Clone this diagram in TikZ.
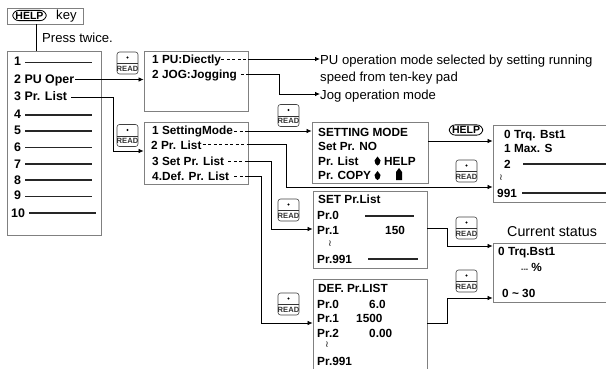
\documentclass[tikz,border=0pt]{standalone}
\usepackage{fontspec}
\setmainfont{Liberation Sans}
\newfontfamily\symfont{DejaVu Sans}
\usetikzlibrary{arrows.meta}
\tikzset{
  panel/.style={draw=black!50,line width=0.8pt,fill=white},
  lab/.style={anchor=west,inner sep=0pt,text height=9pt,text depth=1pt,font=\fontsize{11.8}{11.8}\selectfont\bfseries},
  mlab/.style={lab,font=\fontsize{12.4}{12.4}\selectfont\bfseries},
  plain/.style={anchor=west,inner sep=0pt,text height=10pt,text depth=1pt,font=\fontsize{13.1}{13.1}\selectfont},
  blank/.style={line width=1.1pt,black!85},
  conn/.style={line width=0.75pt,-{Latex[length=5pt,width=4.5pt]}},
  dashseg/.style={line width=0.6pt,dash pattern=on 3pt off 2.5pt},
  keyb/.style={draw=black!75,line width=0.6pt,rounded corners=2.5pt},
  pill/.style={draw=black,line width=0.8pt,rounded corners=6pt,inner xsep=2.8pt,inner ysep=1.5pt,font=\fontsize{10.5}{10.5}\selectfont\bfseries},
  squig/.style={inner sep=0pt,font=\symfont\fontsize{9}{9}\selectfont}
}
\newcommand{\readkey}[3]{%
  \draw[keyb] (#2,#3) rectangle ++(21,22);
  \draw[line width=0.6pt,black!80] (#2,#3+11.5) -- ++(21,0);
  \fill (#2+10.5,#3+5.5) circle (1.2pt);
  \node[inner sep=0pt,font=\fontsize{7.6}{7.6}\selectfont\bfseries,black!80] (#1) at (#2+10.5,#3+16.8) {READ};
}
\newcommand{\updown}[2]{\fill (#1,#2-4) -- (#1+3,#2) -- (#1+2,#2+3.5) -- (#1,#2+5) -- (#1-2,#2+3.5) -- (#1-3,#2) -- cycle;}
\begin{document}
\begin{tikzpicture}[x=1pt,y=-1pt]
\useasboundingbox (0,0) rectangle (606,369);
% panels
\node[panel,minimum width=76pt,minimum height=16pt,inner sep=0pt] (helpbox) at (45,16) {};
\node[panel,minimum width=94pt,minimum height=184pt,inner sep=0pt] (menu) at (54,143) {};
\node[panel,minimum width=104pt,minimum height=60pt,inner sep=0pt] (pubox) at (196,81) {};
\node[panel,minimum width=104pt,minimum height=62pt,inner sep=0pt] (prbox) at (196,153) {};
\node[panel,minimum width=116pt,minimum height=61pt,inner sep=0pt] (setmode) at (370,152.5) {};
\node[panel,minimum width=114pt,minimum height=77pt,inner sep=0pt] (setlist) at (370,229.5) {};
\node[panel,minimum width=120pt,minimum height=77pt,inner sep=0pt] (trq) at (553,163.5) {};
\node[panel,minimum width=120pt,minimum height=59pt,inner sep=0pt] (cur) at (553,272.5) {};
\node[panel,minimum width=114pt,minimum height=100pt,inner sep=0pt] (deflist) at (370,329) {};
% HELP key box
\node[pill] (hk) at (29.5,15.5) {HELP};
\node[plain] (hkt) at (56,15) {key};
\coordinate (hlpdown) at (36,24);
\coordinate (menutop) at (36,51);
\draw[line width=0.8pt] (hlpdown) -- (menutop);
\node[plain] (press) at (42,38) {Press twice.};
% menu
\node[mlab] (t1) at (14,62) {1};
\node[mlab] (t2) at (14,80) {2 PU Oper};
\node[mlab] (t3) at (14,97) {3 Pr. List};
\node[mlab] (t4) at (14,115) {4};
\node[mlab] (t5) at (14,131) {5};
\node[mlab] (t6) at (14,147) {6};
\node[mlab] (t7) at (14,164) {7};
\node[mlab] (t8) at (14,180) {8};
\node[mlab] (t9) at (14,196) {9};
\node[mlab] (t10) at (11,213) {10};
\foreach \y/\a/\b in {62.5/25/92,115/25/92,131/25/92,147.5/25/92,164/25/92,180/25/92,196.5/25/92,213/29/96}{
  \draw[blank] (\a,\y) -- (\b,\y);
}
% second-level text
\node[lab] (pu1) at (152,60) {1 PU:Diectly};
\node[lab] (pu2) at (152,74.5) {2 JOG:Jogging};
\node[lab] (pr1) at (152,131) {1 SettingMode};
\node[lab] (pr2) at (151,145.5) {2 Pr. List};
\node[lab] (pr3) at (152,161) {3 Set Pr. List};
\node[lab] (pr4) at (152,176) {4.Def. Pr. List};
% outputs
\node[plain] (o1) at (320,60) {PU operation mode selected by setting running};
\node[plain] (o2) at (320,77) {speed from ten-key pad};
\node[plain] (o3) at (320,95) {Jog operation mode};
% setting mode
\node[lab] (s1) at (318,132) {SETTING MODE};
\node[lab] (s2) at (318,146) {Set Pr. NO};
\node[lab] (s3) at (318,161) {Pr. List};
\node[lab] (s3b) at (384,161) {HELP};
\node[lab] (s4) at (318,175) {Pr. COPY};
\updown{377.5}{160.5}
\updown{377.5}{175}
\fill (396,180) -- (396,172) -- (399,168) -- (402,172) -- (402,180) -- cycle;
% trq list
\node[lab] (a0) at (504,135) {0 Trq. Bst1};
\node[lab] (a1) at (504,149) {1 Max. S};
\node[lab] (a2) at (504,164) {2};
\node[squig] (a3) at (501,178) {≀};
\node[lab] (a4) at (497,193) {991};
\draw[blank] (523,164) -- (606,164);
\draw[blank] (522,193) -- (606,193);
% set list
\node[lab] (b0) at (318,200) {SET Pr.List};
\node[lab] (b1) at (317,215) {Pr.0};
\node[lab] (b2) at (317,230) {Pr.1};
\node[lab] (b2v) at (385,230) {150};
\node[squig] (b3) at (330,244) {≀};
\node[lab] (b4) at (317,259) {Pr.991};
\draw[blank] (365,216) -- (414,216);
\draw[blank] (368,259) -- (418,259);
% def list
\node[lab] (d0) at (318,288.5) {DEF. Pr.LIST};
\node[lab] (d1) at (317,304) {Pr.0};
\node[lab] (d1v) at (369,304) {6.0};
\node[lab] (d2) at (317,318) {Pr.1};
\node[lab] (d2v) at (356,318) {1500};
\node[lab] (d3) at (317,333) {Pr.2};
\node[lab] (d3v) at (369,333) {0.00};
\node[squig] (d4) at (327,345) {≀};
\node[lab] (d5) at (317,361) {Pr.991};
% current
\node[plain,font=\fontsize{14.3}{14.3}\selectfont] (c0) at (507,232) {Current status};
\node[lab] (c1) at (498,251) {0 Trq.Bst1};
\node[lab] (c2) at (521,267) {{\fontsize{7}{7}\selectfont -{}-{}-} \%};
\node[lab] (c3) at (502,293) {0 \textasciitilde{} 30};
% keys
\readkey{k1}{117}{52}
\readkey{k2}{117}{124.5}
\readkey{k3}{278}{104.5}
\readkey{k4}{456}{160}
\readkey{k5}{278}{199}
\readkey{k6}{278}{293}
\readkey{k7}{456}{217}
\readkey{k8}{456}{270}
\node[pill] (hp) at (466,130) {HELP};
% connectors
\draw[conn] (t2.east |- 0,79.5) ++(1,0) -- (pubox.west |- 0,79.5);
\draw[conn] (t3.east |- 0,97) ++(4,0) -- (113,97) -- (113,151) -- (prbox.west |- 0,151);
\draw[dashseg] (pu1.east |- 0,59) -- (248,59);
\draw[conn] (pubox.east |- 0,59) -- (o1.west |- 0,59);
\draw[dashseg] (pu2.east |- 0,74) ++(4,0) -- (248,74);
\draw[conn] (pubox.east |- 0,74) -- (279,74) -- (279,94) -- (o3.west |- 0,94);
\draw[dashseg] (pr1.east |- 0,131) ++(1,0) -- (248,131);
\draw[conn] (prbox.east |- 0,131) -- (setmode.west |- 0,131);
\draw[dashseg] (pr2.east |- 0,144) ++(1,0) -- (248,144);
\draw[conn] (prbox.east |- 0,144) -- (286,144) -- (286,187) -- (trq.west |- 0,187);
\draw[dashseg] (pr3.east |- 0,161) ++(4,0) -- (248,161);
\draw[conn] (prbox.east |- 0,161) -- (271,161) -- (271,229) -- (setlist.west |- 0,229);
\draw[dashseg] (pr4.east |- 0,176) ++(5,0) -- (248,176);
\draw[conn] (prbox.east |- 0,176) -- (261,176) -- (261,323) -- (deflist.west |- 0,323);
\draw[conn] (setmode.east |- 0,141) -- (trq.west |- 0,141);
\draw[conn] (setlist.east |- 0,228) -- (447,228) -- (447,246) -- (cur.west |- 0,246);
\draw[conn] (deflist.east |- 0,323) -- (447,323) -- (447,298) -- (cur.west |- 0,298);
\end{tikzpicture}
\end{document}
